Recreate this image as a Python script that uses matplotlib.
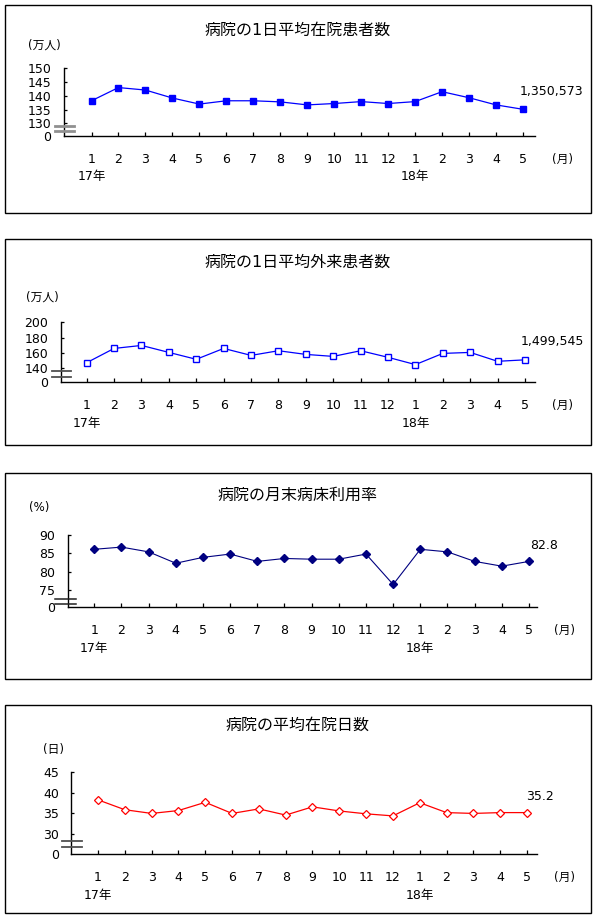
import matplotlib
matplotlib.use("Agg")
import matplotlib.pyplot as plt
from matplotlib.patches import Rectangle
from matplotlib.lines import Line2D

# DejaVu for digits (wide, like the original), Noto CJK for the Japanese
plt.rcParams['font.family'] = ['DejaVu Sans', 'Noto Sans CJK JP']

W, H = 596, 919

# month labels (17年1月 .. 18年5月)
months = ["1", "2", "3", "4", "5", "6", "7", "8", "9", "10", "11", "12",
          "1", "2", "3", "4", "5"]
year_labels = {0: "17年", 12: "18年"}

# values
inpatients = [138.2, 143.0, 142.1, 139.2, 137.0, 138.2, 138.2, 137.8, 136.7,
              137.2, 137.9, 137.2, 137.9, 141.5, 139.3, 136.7, 135.1]
outpatients = [147.3, 165.9, 169.8, 160.7, 151.7, 165.9, 156.8, 162.9, 158.1,
               155.5, 162.9, 154.3, 144.8, 159.4, 160.7, 149.1, 151.0]
bed_rate = [86.1, 86.7, 85.4, 82.3, 83.9, 84.8, 82.8, 83.6, 83.4, 83.4,
            84.8, 76.5, 86.1, 85.4, 82.8, 81.5, 82.8]
stay_days = [38.3, 35.9, 35.0, 35.7, 37.7, 35.0, 36.1, 34.6, 36.6, 35.6,
             34.9, 34.4, 37.6, 35.2, 35.0, 35.2, 35.2]

titles = ["病院の1日平均在院患者数", "病院の1日平均外来患者数",
          "病院の月末病床利用率", "病院の平均在院日数"]
units = ["(万人)", "(万人)", "(%)", "(日)"]
last_labels = ["1,350,573", "1,499,545", "82.8", "35.2"]
yticks_list = [[130, 135, 140, 145, 150], [140, 160, 180, 200],
               [75, 80, 85, 90], [30, 35, 40, 45]]
series = [inpatients, outpatients, bed_rate, stay_days]

# layout in pixels: plot area edges, value drawn as "0", first/last point x,
# frame top/bottom, title y, unit label pos, break marks, end-label offset
panels = [
    dict(l=64, r=535, t=68.3, b=136, ymin=125.4, x0=91.5, x1=523,
         ft=5, fb=213, ty=30, ux=44, uy=45, brk=(55, 74, 126, 130.7),
         brk_color="#909090", brk_lw=2.0, lab=(28, 18),
         style=dict(color="#0000FF", marker="s", ms=4.6, mfc="#0000FF",
                    mec="#0000FF", lw=0.9)),
    dict(l=60.7, r=535, t=322.3, b=382.3, ymin=121.7, x0=86.7, x1=525,
         ft=239, fb=445, ty=262, ux=42, uy=297, brk=(52, 71, 370.7, 377.3),
         brk_color="#505050", brk_lw=1.3, lab=(27, 18),
         style=dict(color="#0000FF", marker="s", ms=4.2, mfc="white",
                    mec="#0000FF", mew=1.0, lw=0.9)),
    dict(l=67.7, r=537, t=535, b=607.3, ymin=70.28, x0=94.3, x1=529,
         ft=473, fb=679, ty=495, ux=39, uy=508, brk=(55, 76, 598.7, 604),
         brk_color="#202020", brk_lw=1.1, lab=(15, 16),
         style=dict(color="#000080", marker="D", ms=3.8, mfc="#000080",
                    mec="#000080", lw=0.8)),
    dict(l=71.3, r=537, t=772.3, b=854.3, ymin=25.06, x0=98, x1=527,
         ft=705, fb=913, ty=725, ux=53, uy=750, brk=(62, 82, 841, 846.7),
         brk_color="#505050", brk_lw=1.3, lab=(13, 16),
         style=dict(color="#FF0000", marker="D", ms=4.2, mfc="white",
                    mec="#FF0000", mew=0.9, lw=0.9)),
]

fig = plt.figure(figsize=(W / 100, H / 100), dpi=100)
fig.patch.set_facecolor("white")
PT = 1.389  # pixels per point at 100 dpi

for p, title, unit, lab, yt, vals in zip(panels, titles, units, last_labels,
                                         yticks_list, series):
    # outer frame
    fig.patches.append(Rectangle((5 / W, 1 - p["fb"] / H), 586 / W,
                                 (p["fb"] - p["ft"]) / H, fill=False,
                                 edgecolor="black", lw=1.0,
                                 transform=fig.transFigure))
    fig.text(298 / W, 1 - p["ty"] / H, title, ha="center", va="center",
             fontsize=11.5)
    fig.text(p["ux"] / W, 1 - p["uy"] / H, unit, ha="center", va="center",
             fontsize=8.5)

    ax = fig.add_axes([p["l"] / W, 1 - p["b"] / H, (p["r"] - p["l"]) / W,
                       (p["b"] - p["t"]) / H])
    ax.patch.set_alpha(0)
    x = list(range(len(vals)))
    ax.plot(x, vals, clip_on=False, **p["style"])

    sp = (p["x1"] - p["x0"]) / (len(vals) - 1)
    ax.set_xlim((p["l"] - p["x0"]) / sp, len(vals) - 1 + (p["r"] - p["x1"]) / sp)
    ax.set_ylim(p["ymin"], yt[-1])
    for s in ["top", "right"]:
        ax.spines[s].set_visible(False)
    for s in ["left", "bottom"]:
        ax.spines[s].set_linewidth(1.0)

    ax.set_xticks(x)
    ax.set_xticklabels(months)
    ax.set_yticks([p["ymin"]] + yt)
    ax.set_yticklabels(["0"] + [str(v) for v in yt])
    ax.tick_params(axis="x", direction="in", length=3, width=0.9, pad=12,
                   labelsize=9)
    ax.tick_params(axis="y", direction="in", length=2.5, width=0.9, pad=9,
                   labelsize=9)
    ax.yaxis.get_major_ticks()[0].tick1line.set_visible(False)

    for i, yl in year_labels.items():
        ax.annotate(yl, xy=(i, 0), xycoords=("data", "axes fraction"),
                    xytext=(0, -41 / PT), textcoords="offset points",
                    ha="center", va="center", fontsize=9)
    ax.annotate("(月)", xy=(1, 0), xycoords="axes fraction",
                xytext=(28 / PT, -23 / PT), textcoords="offset points",
                ha="center", va="center", fontsize=8.5)
    ax.annotate(lab, xy=(len(vals) - 1, vals[-1]), xycoords="data",
                xytext=(p["lab"][0] / PT, p["lab"][1] / PT),
                textcoords="offset points", ha="center", va="center",
                fontsize=9)

    # broken-axis marks
    bx0, bx1, by0, by1 = p["brk"]
    for by in (by0, by1):
        fig.lines.append(Line2D([bx0 / W, bx1 / W], [1 - by / H, 1 - by / H],
                                color=p["brk_color"], lw=p["brk_lw"],
                                transform=fig.transFigure))

fig.savefig("out.png", dpi=100)
